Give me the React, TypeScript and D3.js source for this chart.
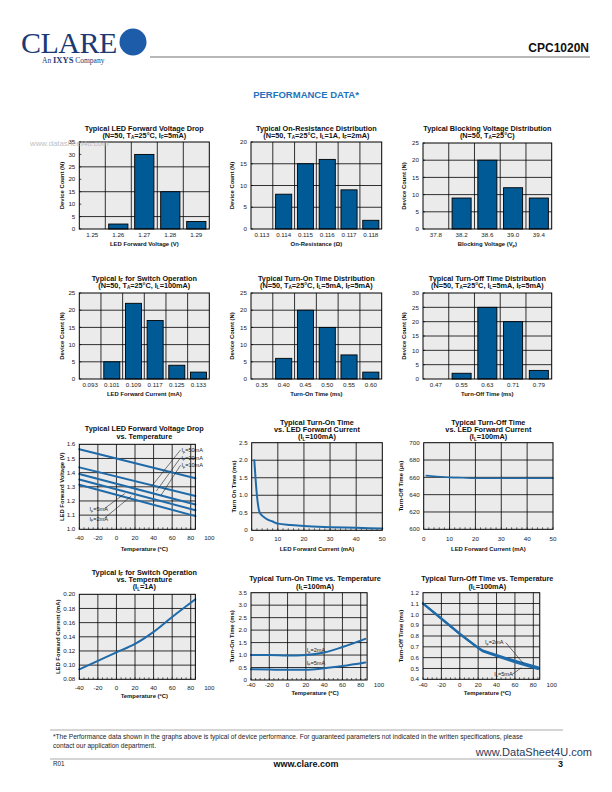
import React from "react";
import * as d3 from "d3";

const SANS = "'Liberation Sans', Arial, Helvetica, sans-serif";
const SERIF = "'Liberation Serif', 'Times New Roman', serif";
const BAR = "#005a96";
const LINE = "#1f6aa8";
const BG = "#ebebeb";
const TITLE_FS = 7.3;
const TICK_FS = 6.2;
const AXIS_FS = 5.9;

// ---------- Bar chart data ----------
const vfCats = ["1.25", "1.26", "1.27", "1.28", "1.29"];
const vfCounts = [0, 2, 30, 15, 3];
const vfYTicks = [0, 5, 10, 15, 20, 25, 30, 35];

const ronCats = ["0.113", "0.114", "0.115", "0.116", "0.117", "0.118"];
const ronCounts = [0, 8, 15, 16, 9, 2];
const ronYTicks = [0, 5, 10, 15, 20];

const bvCats = ["37.8", "38.2", "38.6", "39.0", "39.4"];
const bvCounts = [0, 9, 20, 12, 9];
const bvYTicks = [0, 5, 10, 15, 20, 25];

const ifCats = ["0.093", "0.101", "0.109", "0.117", "0.125", "0.133"];
const ifCounts = [0, 5, 22, 17, 4, 2];
const ifYTicks = [0, 5, 10, 15, 20, 25];

const tonCats = ["0.35", "0.40", "0.45", "0.50", "0.55", "0.60"];
const tonCounts = [0, 6, 20, 15, 7, 2];
const tonYTicks = [0, 5, 10, 15, 20, 25];

const toffCats = ["0.47", "0.55", "0.63", "0.71", "0.79"];
const toffCounts = [0, 2, 25, 20, 3];
const toffYTicks = [0, 5, 10, 15, 20, 25, 30];

// ---------- Line chart data ----------
const tempTicks = [-40, -20, 0, 20, 40, 60, 80, 100];
const currentTicks = [0, 10, 20, 30, 40, 50];

// LED forward voltage vs temperature
const vfTemp = [-40, 85];
const vf50mA = [1.565, 1.36];
const vf20mA = [1.437, 1.235];
const vf10mA = [1.39, 1.175];
const vf5mA = [1.352, 1.135];
const vf2mA = [1.315, 1.093];
const vfTempYTicks = [1.0, 1.1, 1.2, 1.3, 1.4, 1.5, 1.6];
const vfTempYLabels = ["1.0", "1.1", "1.2", "1.3", "1.4", "1.5", "1.6"];

// Turn-on time vs LED current
const tonIf = [1, 1.5, 2, 3, 4, 5, 6, 8, 10, 15, 20, 30, 40, 50];
const tonVsIf = [2.0, 1.45, 1.0, 0.52, 0.42, 0.36, 0.31, 0.25, 0.19, 0.15, 0.12, 0.09, 0.07, 0.05];
const tonIfYTicks = [0, 0.5, 1.0, 1.5, 2.0, 2.5];
const tonIfYLabels = ["0", "0.5", "1.0", "1.5", "2.0", "2.5"];

// Turn-off time vs LED current
const toffIf = [1, 5, 10, 15, 20, 30, 40, 50];
const toffVsIf = [662, 661, 660, 659.5, 659, 659, 659, 659];
const toffIfYTicks = [600, 620, 640, 660, 680, 700];
const toffIfYLabels = ["600", "620", "640", "660", "680", "700"];

// I_F for switch operation vs temperature
const ifTemp = [-40, -20, 0, 20, 40, 60, 85];
const ifVsTemp = [0.094, 0.106, 0.118, 0.13, 0.147, 0.168, 0.193];
const ifTempYTicks = [0.08, 0.1, 0.12, 0.14, 0.16, 0.18, 0.2];
const ifTempYLabels = ["0.08", "0.10", "0.12", "0.14", "0.16", "0.18", "0.20"];

// Turn-on time vs temperature
const tonTemp = [-40, -20, 0, 20, 40, 60, 85];
const ton2mA = [1.0, 1.0, 0.98, 1.0, 1.1, 1.32, 1.65];
const ton5mA = [0.43, 0.42, 0.41, 0.41, 0.47, 0.56, 0.7];
const tonTempYTicks = [0, 0.5, 1.0, 1.5, 2.0, 2.5, 3.0, 3.5];
const tonTempYLabels = ["0", "0.5", "1.0", "1.5", "2.0", "2.5", "3.0", "3.5"];

// Turn-off time vs temperature
const toffTemp = [-40, -20, 0, 20, 25, 40, 60, 85];
const toff2mA = [1.1, 0.96, 0.82, 0.69, 0.665, 0.625, 0.57, 0.51];
const toff5mA = [1.1, 0.96, 0.82, 0.69, 0.66, 0.615, 0.558, 0.495];
const toffTempYTicks = [0.4, 0.5, 0.6, 0.7, 0.8, 0.9, 1.0, 1.1, 1.2];
const toffTempYLabels = ["0.4", "0.5", "0.6", "0.7", "0.8", "0.9", "1.0", "1.1", "1.2"];

// ---------- helpers ----------
function Rich({ text }: { text: string }) {
  const parts = text.split(/(_\{[^}]*\})/).filter((p) => p.length);
  let shifted = false;
  return (
    <>
      {parts.map((p, i) => {
        if (p.startsWith("_{")) {
          shifted = true;
          return (
            <tspan key={i} dy={1.5} fontSize="0.62em">
              {p.slice(2, -1)}
            </tspan>
          );
        }
        const dy = shifted ? -1.5 : 0;
        shifted = false;
        return (
          <tspan key={i} dy={dy}>
            {p}
          </tspan>
        );
      })}
    </>
  );
}

function Titles({ lines, ys, cx }: { lines: string[]; ys: number[]; cx: number }) {
  return (
    <>
      {lines.map((t, i) => (
        <text key={i} x={cx} y={ys[i] + TITLE_FS * 0.35} textAnchor="middle" fontFamily={SANS} fontWeight="bold" fontSize={TITLE_FS} fill="#111">
          <Rich text={t} />
        </text>
      ))}
    </>
  );
}

type BarProps = {
  box: [number, number, number, number];
  cats: string[];
  counts: number[];
  yTicks: number[];
  grid: number[];
  titles: string[];
  titleYs: number[];
  xLabel: string;
  xLabelY: number;
  tickY: number;
  yLabel: string;
  yLabelX: number;
};

function BarChart(p: BarProps) {
  const [x0, x1, y0, y1] = p.box;
  const x = d3.scaleBand<string>().domain(p.cats).range([x0, x1]);
  const y = d3.scaleLinear().domain([0, p.yTicks[p.yTicks.length - 1]]).range([y1, y0]);
  const bw = x.bandwidth() * 0.74;
  const cx = (x0 + x1) / 2;
  return (
    <g>
      <Titles lines={p.titles} ys={p.titleYs} cx={cx} />
      <rect x={x0} y={y0} width={x1 - x0} height={y1 - y0} fill={BG} />
      {p.grid.map((g) => (
        <line key={"h" + g} x1={x0} x2={x1} y1={y(g)} y2={y(g)} stroke="#000" strokeWidth={0.8} />
      ))}
      {p.cats.slice(1).map((c) => (
        <line key={"v" + c} x1={x(c)!} x2={x(c)!} y1={y0} y2={y1} stroke="#000" strokeWidth={0.8} />
      ))}
      {p.cats.map((c, i) =>
        p.counts[i] > 0 ? (
          <rect key={"b" + c} x={x(c)! + (x.bandwidth() - bw) / 2} y={y(p.counts[i])} width={bw} height={y1 - y(p.counts[i])} fill={BAR} stroke="#000" strokeWidth={0.9} />
        ) : null
      )}
      {p.yTicks.map((t) => (
        <g key={"yt" + t}>
          <line x1={x0} x2={x0 + 2} y1={y(t)} y2={y(t)} stroke="#000" strokeWidth={0.7} />
          <text x={x0 - 4} y={y(t) + TICK_FS * 0.35} textAnchor="end" fontFamily={SANS} fontSize={TICK_FS} fill="#222">
            {t}
          </text>
        </g>
      ))}
      {p.cats.map((c) => (
        <text key={"xt" + c} x={x(c)! + x.bandwidth() / 2} y={p.tickY + TICK_FS * 0.35} textAnchor="middle" fontFamily={SANS} fontSize={TICK_FS} fill="#222">
          {c}
        </text>
      ))}
      <rect x={x0} y={y0} width={x1 - x0} height={y1 - y0} fill="none" stroke="#000" strokeWidth={1} />
      <text x={cx} y={p.xLabelY + AXIS_FS * 0.35} textAnchor="middle" fontFamily={SANS} fontWeight="bold" fontSize={AXIS_FS} fill="#111">
        <Rich text={p.xLabel} />
      </text>
      <text transform={`translate(${p.yLabelX},${(y0 + y1) / 2}) rotate(-90)`} y={AXIS_FS * 0.35} textAnchor="middle" fontFamily={SANS} fontWeight="bold" fontSize={AXIS_FS} fill="#111">
        <Rich text={p.yLabel} />
      </text>
    </g>
  );
}

type Series = { xs: number[]; ys: number[]; width?: number; smooth?: boolean };
type Note = { text: string; x: number; y: number; leader?: [number, number, number, number] };

type LineProps = {
  xDomain: [number, number];
  xRange: [number, number];
  xBoxMax: number;
  yDomain: [number, number];
  yRange: [number, number];
  xTicks: number[];
  xMinor: number;
  yTicks: number[];
  yLabels: string[];
  series: Series[];
  notes?: Note[];
  titles: string[];
  titleYs: number[];
  xLabel: string;
  xLabelY: number;
  tickY: number;
  yLabel: string;
  yLabelX: number;
};

function LineChart(p: LineProps) {
  const x = d3.scaleLinear().domain(p.xDomain).range(p.xRange);
  const y = d3.scaleLinear().domain(p.yDomain).range(p.yRange);
  const bx0 = x(p.xDomain[0]);
  const bx1 = x(p.xBoxMax);
  const by0 = p.yRange[1];
  const by1 = p.yRange[0];
  const cx = (p.xRange[0] + p.xRange[1]) / 2;
  const minors = d3.range(p.xDomain[0], p.xBoxMax + 0.001, p.xMinor);
  return (
    <g>
      <Titles lines={p.titles} ys={p.titleYs} cx={cx} />
      <rect x={bx0} y={by0} width={bx1 - bx0} height={by1 - by0} fill={BG} />
      {p.yTicks.slice(1, -1).map((t) => (
        <line key={"h" + t} x1={bx0} x2={bx1} y1={y(t)} y2={y(t)} stroke="#000" strokeWidth={0.8} />
      ))}
      {p.xTicks
        .filter((t) => t > p.xDomain[0] && t < p.xBoxMax)
        .map((t) => (
          <line key={"v" + t} x1={x(t)} x2={x(t)} y1={by0} y2={by1} stroke="#000" strokeWidth={0.8} />
        ))}
      {minors.map((m) => (
        <line key={"m" + m} x1={x(m)} x2={x(m)} y1={by1} y2={by1 - 2} stroke="#000" strokeWidth={0.6} />
      ))}
      {p.series.map((s, i) => {
        const gen = d3
          .line<number>()
          .x((_, k) => x(s.xs[k]))
          .y((v) => y(v))
          .curve(s.smooth ? d3.curveMonotoneX : d3.curveLinear);
        return <path key={"s" + i} d={gen(s.ys) || ""} fill="none" stroke={LINE} strokeWidth={s.width ?? 2} strokeLinecap="round" />;
      })}
      {(p.notes || []).map((n, i) => (
        <g key={"n" + i}>
          {n.leader ? (
            <line x1={x(n.leader[0])} y1={y(n.leader[1])} x2={x(n.leader[2])} y2={y(n.leader[3])} stroke="#222" strokeWidth={0.6} />
          ) : null}
          <text x={x(n.x)} y={y(n.y)} fontFamily={SANS} fontSize={5.6} fill="#222">
            <Rich text={n.text} />
          </text>
        </g>
      ))}
      <rect x={bx0} y={by0} width={bx1 - bx0} height={by1 - by0} fill="none" stroke="#000" strokeWidth={1} />
      {p.yTicks.map((t, i) => (
        <text key={"yt" + t} x={bx0 - 4} y={y(t) + TICK_FS * 0.35} textAnchor="end" fontFamily={SANS} fontSize={TICK_FS} fill="#222">
          {p.yLabels[i]}
        </text>
      ))}
      {p.xTicks.map((t) => (
        <text key={"xt" + t} x={x(t)} y={p.tickY + TICK_FS * 0.35} textAnchor="middle" fontFamily={SANS} fontSize={TICK_FS} fill="#222">
          {t}
        </text>
      ))}
      <text x={cx} y={p.xLabelY + AXIS_FS * 0.35} textAnchor="middle" fontFamily={SANS} fontWeight="bold" fontSize={AXIS_FS} fill="#111">
        <Rich text={p.xLabel} />
      </text>
      <text transform={`translate(${p.yLabelX},${(by0 + by1) / 2}) rotate(-90)`} y={AXIS_FS * 0.35} textAnchor="middle" fontFamily={SANS} fontWeight="bold" fontSize={AXIS_FS} fill="#111">
        <Rich text={p.yLabel} />
      </text>
    </g>
  );
}

export default function App() {
  const C1x: [number, number] = [79.3, 209.3];
  const C2x: [number, number] = [251, 381.7];
  const C3x: [number, number] = [423, 551.7];
  return (
    <svg width={612} height={792} viewBox="0 0 612 792" style={{ position: "absolute", left: 0, top: 0, background: "#fff" }}>
      {/* Header */}
      <text x={21} y={53} fontFamily={SERIF} fontSize={30} fill="#1b3a73" letterSpacing={-0.5}>
        CLARE
      </text>
      <circle cx={133} cy={42} r={13.5} fill="#1c5ca8" />
      <text x={42} y={63} fontFamily={SERIF} fontSize={7.5} fill="#1b3a73">
        An <tspan fontWeight="bold" fontSize={8.5}>IXYS</tspan> Company
      </text>
      <line x1={150} x2={590} y1={57} y2={57} stroke="#333" strokeWidth={0.7} />
      <text x={589} y={52} textAnchor="end" fontFamily={SANS} fontWeight="bold" fontSize={12} fill="#111">
        CPC1020N
      </text>
      <text x={306} y={98} textAnchor="middle" fontFamily={SANS} fontWeight="bold" fontSize={9.5} fill="#1f73bd">
        PERFORMANCE DATA*
      </text>

      {/* Row 1 */}
      <BarChart box={[C1x[0], C1x[1], 142, 229]} cats={vfCats} counts={vfCounts} yTicks={vfYTicks} grid={[5, 15, 25]}
        titles={["Typical LED Forward Voltage Drop", "(N=50, T_{A}=25°C, I_{F}=5mA)"]} titleYs={[128, 135.3]}
        xLabel="LED Forward Voltage (V)" xLabelY={244} tickY={235} yLabel="Device Count (N)" yLabelX={61.7} />
      <BarChart box={[C2x[0], C2x[1], 142, 229]} cats={ronCats} counts={ronCounts} yTicks={ronYTicks} grid={[5, 10, 15]}
        titles={["Typical On-Resistance Distribution", "(N=50, T_{A}=25°C, I_{L}=1A, I_{F}=2mA)"]} titleYs={[128, 135.3]}
        xLabel="On-Resistance (Ω)" xLabelY={244} tickY={235} yLabel="Device Count (N)" yLabelX={231.7} />
      <BarChart box={[C3x[0], C3x[1], 143, 229]} cats={bvCats} counts={bvCounts} yTicks={bvYTicks} grid={[5, 10, 15, 20]}
        titles={["Typical Blocking Voltage Distribution", "(N=50, T_{A}=25°C)"]} titleYs={[128, 135.3]}
        xLabel="Blocking Voltage (V_{P})" xLabelY={244} tickY={235} yLabel="Device Count (N)" yLabelX={404} />

      {/* Row 2 */}
      <BarChart box={[C1x[0], C1x[1], 293, 379]} cats={ifCats} counts={ifCounts} yTicks={ifYTicks} grid={[5, 10, 15, 20]}
        titles={["Typical I_{F} for Switch Operation", "(N=50, T_{A}=25°C, I_{L}=100mA)"]} titleYs={[278, 285.3]}
        xLabel="LED Forward Current (mA)" xLabelY={394} tickY={385.3} yLabel="Device Count (N)" yLabelX={61.7} />
      <BarChart box={[C2x[0], C2x[1], 293, 379]} cats={tonCats} counts={tonCounts} yTicks={tonYTicks} grid={[5, 10, 15, 20]}
        titles={["Typical Turn-On Time Distribution", "(N=50, T_{A}=25°C, I_{L}=5mA, I_{F}=5mA)"]} titleYs={[278, 285.3]}
        xLabel="Turn-On Time (ms)" xLabelY={394} tickY={385.3} yLabel="Device Count (N)" yLabelX={231.7} />
      <BarChart box={[C3x[0], C3x[1], 293, 379]} cats={toffCats} counts={toffCounts} yTicks={toffYTicks} grid={[5, 10, 15, 20, 25]}
        titles={["Typical Turn-Off Time Distribution", "(N=50, T_{A}=25°C, I_{L}=5mA, I_{F}=5mA)"]} titleYs={[278, 285.3]}
        xLabel="Turn-Off Time (ms)" xLabelY={394} tickY={385.3} yLabel="Device Count (N)" yLabelX={404} />

      {/* Row 3 */}
      <LineChart xDomain={[-40, 100]} xRange={C1x} xBoxMax={85} yDomain={[1.0, 1.6]} yRange={[529.3, 444.3]}
        xTicks={tempTicks} xMinor={5} yTicks={vfTempYTicks} yLabels={vfTempYLabels}
        series={[
          { xs: vfTemp, ys: vf50mA },
          { xs: vfTemp, ys: vf20mA },
          { xs: vfTemp, ys: vf10mA },
          { xs: vfTemp, ys: vf5mA },
          { xs: vfTemp, ys: vf2mA },
        ]}
        notes={[
          { text: "I_{F}=50mA", x: 70, y: 1.545, leader: [69, 1.56, 38, 1.305] },
          { text: "I_{F}=20mA", x: 70, y: 1.49, leader: [69, 1.505, 43, 1.27] },
          { text: "I_{F}=10mA", x: 70, y: 1.437, leader: [69, 1.452, 48, 1.24] },
          { text: "I_{F}=5mA", x: -29, y: 1.128, leader: [-13, 1.146, 9, 1.252] },
          { text: "I_{F}=2mA", x: -29, y: 1.06, leader: [-13, 1.078, 16, 1.235] },
        ]}
        titles={["Typical LED Forward Voltage Drop", "vs. Temperature"]} titleYs={[428.7, 436]}
        xLabel="Temperature (ºC)" xLabelY={548.7} tickY={538.3} yLabel="LED Forward Voltage (V)" yLabelX={61.7} />
      <LineChart xDomain={[0, 50]} xRange={[251.7, 382.3]} xBoxMax={50} yDomain={[0, 2.5]} yRange={[530.3, 442.7]}
        xTicks={currentTicks} xMinor={2} yTicks={tonIfYTicks} yLabels={tonIfYLabels}
        series={[{ xs: tonIf, ys: tonVsIf, smooth: true }]}
        titles={["Typical Turn-On Time", "vs. LED Forward Current", "(I_{L}=100mA)"]} titleYs={[422, 429.3, 436.7]}
        xLabel="LED Forward Current (mA)" xLabelY={548.7} tickY={538.7} yLabel="Turn On Time (ms)" yLabelX={234} />
      <LineChart xDomain={[0, 50]} xRange={[423.7, 553]} xBoxMax={50} yDomain={[600, 700]} yRange={[529.3, 442.7]}
        xTicks={currentTicks} xMinor={2} yTicks={toffIfYTicks} yLabels={toffIfYLabels}
        series={[{ xs: toffIf, ys: toffVsIf, smooth: true, width: 1.6 }]}
        titles={["Typical Turn-Off Time", "vs. LED Forward Current", "(I_{L}=100mA)"]} titleYs={[422, 429.3, 436.7]}
        xLabel="LED Forward Current (mA)" xLabelY={548.7} tickY={538.7} yLabel="Turn-Off Time (µs)" yLabelX={401} />

      {/* Row 4 */}
      <LineChart xDomain={[-40, 100]} xRange={C1x} xBoxMax={85} yDomain={[0.08, 0.2]} yRange={[679.3, 594.3]}
        xTicks={tempTicks} xMinor={5} yTicks={ifTempYTicks} yLabels={ifTempYLabels}
        series={[{ xs: ifTemp, ys: ifVsTemp, smooth: true }]}
        titles={["Typical I_{F} for Switch Operation", "vs. Temperature", "(I_{L}=1A)"]} titleYs={[572, 579.3, 586.7]}
        xLabel="Temperature (ºC)" xLabelY={696.3} tickY={688} yLabel="LED Forward Current (mA)" yLabelX={58} />
      <LineChart xDomain={[-40, 100]} xRange={[251, 379]} xBoxMax={87} yDomain={[0, 3.5]} yRange={[680, 592.7]}
        xTicks={tempTicks} xMinor={5} yTicks={tonTempYTicks} yLabels={tonTempYLabels}
        series={[
          { xs: tonTemp, ys: ton2mA, smooth: true },
          { xs: tonTemp, ys: ton5mA, smooth: true },
        ]}
        notes={[
          { text: "I_{F}=2mA", x: 21, y: 1.12 },
          { text: "I_{F}=5mA", x: 21, y: 0.62 },
        ]}
        titles={["Typical Turn-On Time vs. Temperature", "(I_{L}=100mA)"]} titleYs={[578.7, 586]}
        xLabel="Temperature (ºC)" xLabelY={692.7} tickY={685.3} yLabel="Turn-On Time (ms)" yLabelX={232} />
      <LineChart xDomain={[-40, 100]} xRange={C3x} xBoxMax={87} yDomain={[0.4, 1.2]} yRange={[679.3, 592.7]}
        xTicks={tempTicks} xMinor={5} yTicks={toffTempYTicks} yLabels={toffTempYLabels}
        series={[
          { xs: toffTemp, ys: toff2mA, width: 2.2 },
          { xs: toffTemp, ys: toff5mA, width: 2.2 },
        ]}
        notes={[
          { text: "I_{F}=2mA", x: 27.5, y: 0.725, leader: [50, 0.74, 69, 0.548] },
          { text: "I_{F}=5mA", x: 37.5, y: 0.43, leader: [57, 0.445, 67, 0.507] },
        ]}
        titles={["Typical Turn-Off Time vs. Temperature", "(I_{L}=100mA)"]} titleYs={[578.7, 586]}
        xLabel="Temperature (ºC)" xLabelY={692.7} tickY={685.3} yLabel="Turn-Off Time (ms)" yLabelX={401} />

      {/* Watermark */}
      <text x={30} y={146} fontFamily={SANS} fontSize={7.8} fill="#b5b5b5" opacity={0.85}>
        www.datasheet4u.com
      </text>

      {/* Footer */}
      <line x1={50} x2={563} y1={730} y2={730} stroke="#555" strokeWidth={0.5} />
      <text x={53} y={739} fontFamily={SANS} fontSize={6.6} fill="#222">
        *The Performance data shown in the graphs above is typical of device performance.  For guaranteed parameters not indicated in the written specifications, please
      </text>
      <text x={53} y={748} fontFamily={SANS} fontSize={6.6} fill="#222">
        contact our application department.
      </text>
      <text x={592} y={756} textAnchor="end" fontFamily={SANS} fontSize={11} fill="#2a3a5a">
        www.DataSheet4U.com
      </text>
      <line x1={50} x2={563} y1={759} y2={759} stroke="#555" strokeWidth={0.5} />
      <text x={53} y={766} fontFamily={SANS} fontSize={6.3} fill="#222">
        R01
      </text>
      <text x={306} y={767} textAnchor="middle" fontFamily={SANS} fontWeight="bold" fontSize={9} fill="#111">
        www.clare.com
      </text>
      <text x={563} y={767} textAnchor="end" fontFamily={SANS} fontWeight="bold" fontSize={9} fill="#111">
        3
      </text>
    </svg>
  );
}
